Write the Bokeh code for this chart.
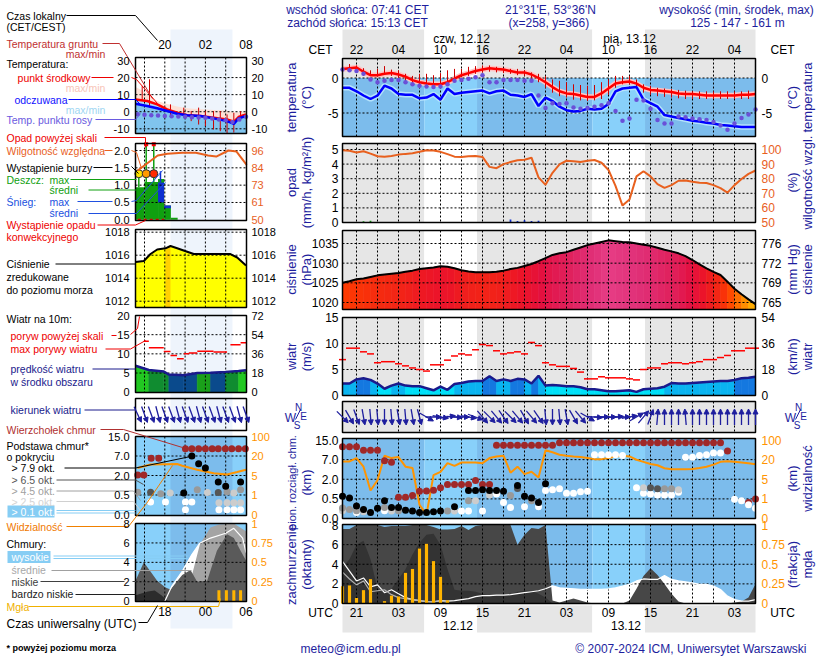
import math
from collections import OrderedDict
import numpy as np
from bokeh.plotting import figure
from bokeh.models import Range1d, ColumnDataSource, Arrow, NormalHead
from bokeh.core.properties import value
from bokeh.embed import file_html
from bokeh.resources import INLINE

# ------------------------------------------------------------------
# DATA - main meteogram (t = hours after 18 UTC 11.12)
# ------------------------------------------------------------------
HOURS = list(range(1, 61))
TEMP = [1.3, 1.4, 1.5, 0.9, 0.4, 0.4, 0.6, 0.7, 0.5, 0.2,
        -0.3, -0.6, -0.8, -0.9, -0.9, -0.6, -0.1, 0.4, 0.7, 1.0,
        1.2, 1.4, 1.3, 1.2, 1.0, 0.8, 0.8, 0.5, 0.0, -0.6,
        -1.3, -1.9, -2.2, -2.3, -2.5, -2.7, -2.7, -2.2, -1.5, -0.8,
        -0.6, -0.5, -0.8, -1.4, -1.7, -1.8, -1.9, -2.0, -2.2, -2.3,
        -2.3, -2.4, -2.5, -2.5, -2.5, -2.5, -2.5, -2.4, -2.4, -2.3]
FEEL = [-1.4, -1.4, -1.9, -2.5, -3.0, -2.5, -1.1, -1.5, -2.3, -2.4,
        -2.4, -2.9, -2.8, -2.3, -3.1, -1.5, -2.3, -2.1, -2.0, -1.9,
        -1.8, -2.2, -1.9, -1.8, -2.4, -2.5, -2.7, -2.3, -4.0, -2.8,
        -3.3, -4.1, -4.6, -4.8, -4.7, -4.4, -4.5, -4.4, -3.7, -1.9,
        -1.5, -1.4, -1.3, -3.1, -3.6, -4.1, -5.3, -5.5, -5.7, -5.9,
        -6.1, -6.2, -6.4, -6.5, -6.7, -6.8, -6.9, -7.0, -7.0, -7.0]
DEW = [1.2, 1.1, 1.0, 0.6, -0.2, -0.6, -0.4, -0.3, -0.3, -0.6,
       -0.9, -1.1, -1.2, -1.3, -1.2, -0.9, -0.4, -0.3, -0.1, 0.1,
       0.4, -0.6, -0.6, -0.3, -0.3, -0.3, -0.4, -0.4, -2.5, -4.3,
       -3.6, -3.7, -3.6, -4.2, -4.4, -4.3, -4.1, -3.9, -3.6, -4.7,
       -6.1, -5.8, -3.1, -3.2, -4.4, -6.0, -6.5, -6.5, -5.5, -5.6,
       -5.8, -5.9, -6.0, -6.3, -6.8, -7.4, -6.5, -5.7, -5.2, -4.5]
GROUND_MAX = [1.9, 2.0, 1.8, 1.4, 1.1, 1.3, 1.7, 1.2, 1.1, 0.6,
              0.3, 0.6, 0.6, 0.4, 0.7, 1.1, 1.3, 1.3, 1.6, 1.7,
              1.8, 1.8, 1.6, 1.4, 1.3, 1.3, 1.1, 0.8, 0.6, 0.3,
              -0.2, -0.4, -0.6, -0.9, -1.0, -1.1, -1.0, -0.6, -0.2, 0.3,
              0.3, 0.3, -0.2, -0.9, -1.1, -1.4, -1.5, -1.6, -1.7, -1.8,
              -1.9, -1.9, -1.9, -1.9, -1.9, -1.9, -1.9, -1.9, -1.8, -1.8]
GROUND_MIN = [0.9, 1.0, 0.9, 0.3, 0.3, 0.3, 0.6, 0.3, -0.2, -0.5,
              -0.9, -1.4, -1.4, -1.4, -1.2, -0.9, -0.4, 0.1, 0.3, 0.6,
              0.8, 0.9, 0.8, 0.7, 0.6, 0.4, 0.3, -0.1, -0.6, -1.4,
              -2.1, -2.6, -2.8, -3.1, -3.2, -3.3, -3.2, -3.0, -2.4, -1.4,
              -0.9, -0.9, -1.4, -2.1, -2.4, -2.6, -2.7, -2.8, -2.9, -3.0,
              -3.0, -3.0, -3.0, -3.0, -3.0, -3.0, -3.0, -3.0, -3.0, -2.9]
HUMIDITY = [99.5, 99.1, 97.9, 98.8, 97.2, 95.4, 95.1, 95.6, 96.5, 97.0,
            97.4, 98.4, 99.5, 99.3, 98.4, 96.8, 95.1, 94.9, 95.4, 95.6,
            94.9, 88.1, 87.2, 90.0, 91.4, 92.6, 93.0, 94.4, 80.9, 75.8,
            84.0, 89.8, 92.3, 91.9, 91.4, 92.3, 92.8, 90.9, 86.0, 75.1,
            61.6, 65.8, 81.6, 85.1, 81.6, 76.3, 73.7, 75.6, 78.6, 78.8,
            77.9, 77.2, 77.0, 75.6, 73.5, 70.5, 75.6, 79.8, 83.3, 85.6]
RAIN_T = [4, 5]
RAIN = [0.08, 0.12]
SNOW_T = [25, 26, 27, 28, 29]
SNOW = [0.2, 0.1, 0.15, 0.1, 0.12]
PRESSURE = [1025.0, 1025.4, 1025.9, 1026.1, 1026.5, 1026.9, 1027.1, 1027.3, 1027.5, 1027.8,
            1028.1, 1028.5, 1028.7, 1028.9, 1029.2, 1029.1, 1028.7, 1028.2, 1027.9, 1027.7,
            1027.7, 1027.7, 1027.8, 1028.1, 1028.5, 1028.8, 1029.3, 1029.8, 1030.5, 1031.3,
            1032.1, 1032.5, 1032.8, 1033.4, 1034.0, 1034.6, 1035.0, 1035.4, 1035.8, 1035.6,
            1035.4, 1035.3, 1035.0, 1034.7, 1034.4, 1033.9, 1033.4, 1033.0, 1032.5, 1031.8,
            1030.8, 1029.7, 1028.7, 1027.8, 1027.0, 1025.3, 1023.5, 1022.1, 1020.8, 1019.6]
WIND = [2.3, 2.3, 3.1, 3.3, 3.0, 2.3, 1.3, 1.9, 2.3, 1.9,
        1.8, 1.8, 1.4, 1.0, 1.7, 1.1, 2.2, 2.4, 2.7, 2.8,
        2.8, 3.7, 2.8, 3.1, 2.8, 3.2, 3.1, 2.3, 3.8, 1.9,
        2.0, 1.9, 1.8, 1.8, 1.6, 1.2, 1.2, 1.0, 0.8, 0.8,
        0.9, 1.0, 0.7, 1.2, 1.3, 1.4, 1.7, 2.4, 2.3, 2.3,
        2.4, 2.5, 2.6, 2.7, 2.8, 2.8, 3.0, 3.3, 3.4, 3.6]
GUST = [6.9, 9.1, 9.1, 8.4, 8.0, 6.3, 6.5, 6.5, 6.1, 5.7,
        5.3, 5.0, 4.7, 5.9, 5.9, 6.8, 7.6, 8.0, 7.8, 8.8,
        9.8, 9.6, 8.6, 8.0, 8.2, 8.4, 8.0, 10.2, 9.6, 6.3,
        5.9, 5.6, 5.6, 5.2, 4.5, 3.2, 3.2, 3.6, 3.4, 3.4,
        3.4, 3.2, 3.0, 5.0, 5.3, 5.3, 6.1, 6.3, 6.3, 6.1,
        6.3, 6.5, 6.9, 6.9, 7.3, 7.7, 8.6, 8.6, 9.1, 9.1]
WIND_DIR = [315, 330, 340, 350, 355, 355, 0, 355, 350, 355,
            350, 345, 300, 270, 280, 260, 275, 270, 280, 290,
            320, 315, 320, 325, 315, 320, 330, 320, 325, 355,
            0, 355, 350, 330, 320, 300, 275, 270, 270, 265,
            270, 260, 240, 220, 200, 185, 180, 180, 180, 175,
            180, 180, 180, 180, 180, 180, 180, 180, 180, 180]
VISIBILITY = [18.6, 18.6, 26.3, 14.6, 2.7, 4.8, 36.0, 26.3, 30.4, 14.6,
              13.6, 0.7, 0.2, 8.1, 10.7, 17.3, 15.2, 17.8, 17.8, 17.8,
              17.3, 26.3, 33.0, 36.0, 10.0, 14.6, 8.9, 10.7, 6.3, 58.0,
              50.0, 40.0, 36.0, 33.0, 30.4, 26.3, 22.0, 22.0, 26.3, 33.0,
              36.0, 33.0, 19.9, 18.3, 16.7, 15.7, 13.4, 12.6, 12.6, 12.6,
              12.8, 13.6, 14.6, 16.2, 18.3, 18.8, 18.3, 17.8, 17.3, 16.5]
CLOUD_TOP_T = list(range(1, 57)) + [59, 60]
CLOUD_TOP = [12.2, 12.2, 12.2, 10.8, 10.8, 10.8, 6.7, 6.3, 0.62, 0.62,
             0.75, 1.08, 1.1, 1.15, 1.35, 1.6, 1.6, 1.6, 1.6, 1.9,
             1.6, 1.6, 12.9, 12.9, 12.9, 12.9, 12.9, 12.9, 12.9, 12.9,
             12.9, 13.9, 13.9, 13.9, 13.9, 13.9, 13.9, 13.9, 13.9, 13.9,
             13.9, 13.9, 13.9, 13.9, 13.9, 13.9, 13.9, 13.9, 13.9, 13.9,
             13.9, 13.9, 13.9, 13.9, 13.9, 10.5, 0.41, 0.5]
BASE_T = [1, 1, 1, 2, 2, 3, 3, 3, 4, 4, 5, 6, 7, 7, 7, 8, 8, 9, 9, 10,
          11, 12, 13, 14, 15, 16, 17, 17, 18, 19, 19, 19, 20, 20, 21, 21, 22, 22, 23, 23,
          24, 24, 25, 25, 26, 26, 27, 27, 28, 28, 29, 29, 30, 30, 31, 32, 33, 34, 35, 36,
          37, 38, 39, 40, 41, 43, 44, 44, 45, 45, 46, 46, 47, 47, 48, 48, 49, 49, 50, 51,
          52, 53, 54, 55, 57, 58, 59, 60]
BASE_KM = [0.7, 0.27, 0.2, 0.56, 0.23, 0.32, 0.2, 0.15, 0.23, 0.17, 0.15, 0.26, 0.45, 0.28, 0.2, 0.28, 0.19, 0.28, 0.2, 0.21,
           0.19, 0.15, 0.15, 0.17, 0.19, 0.19, 0.3, 0.19, 0.19, 1.14, 0.45, 0.19, 1.14, 0.45, 1.19, 0.19, 1.14, 0.8, 1.14, 0.88,
           1.09, 0.41, 0.75, 0.28, 1.53, 1.3, 0.7, 0.3, 0.56, 0.45, 0.41, 0.3, 1.66, 1.14, 1.19, 1.27, 0.93, 0.93, 1.04, 1.09,
           9.0, 9.0, 9.0, 9.0, 8.7, 1.35, 1.35, 0.93, 1.35, 0.88, 1.27, 0.8, 1.27, 0.8, 1.27, 0.8, 1.19, 1.0, 8.0, 8.0,
           8.7, 9.0, 9.7, 9.7, 0.49, 0.45, 0.35, 0.26]
BASE_COVER = [0, 2, 3, 0, 2, 0, 2, 4, 0, 3, 0, 0, 0, 2, 4, 0, 3, 0, 2, 0,
              0, 0, 0, 0, 0, 2, 0, 3, 4, 0, 2, 4, 0, 3, 0, 4, 0, 3, 0, 4,
              0, 4, 2, 4, 0, 1, 0, 4, 0, 2, 0, 4, 0, 4, 4, 4, 4, 4, 4, 4,
              4, 4, 4, 4, 4, 4, 3, 4, 1, 4, 1, 4, 2, 4, 2, 4, 3, 4, 4, 4,
              4, 4, 4, 4, 4, 4, 4, 4]
CL_LOW = [7.6, 7.6, 8.0, 8.0, 8.0, 8.0, 7.8, 7.9, 7.9, 7.9,
          8.0, 8.0, 8.0, 7.8, 7.55, 7.55, 7.6, 7.9, 7.5, 7.9,
          8.0, 8.0, 8.0, 8.0, 8.0, 6.0, 7.0, 7.7, 7.6, 8.0,
          0.3, 0.1, 0.3, 0.5, 0.3, 0.1, 0.0, 0.0, 0.0, 0.0,
          0.0, 0.3, 1.5, 2.8, 3.6, 2.9, 2.0, 1.0, 0.2, 0.0,
          0.0, 0.0, 0.0, 0.0, 0.0, 0.0, 0.1, 0.2, 0.6, 2.0]
CL_VLOW = [3.7, 4.5, 6.0, 6.4, 4.5, 1.5, 1.0, 1.5, 2.5, 3.5,
           5.0, 6.2, 7.0, 7.1, 6.0, 3.5, 1.4, 1.3, 1.3, 1.2,
           1.0, 0.8, 0.8, 0.9, 1.0, 1.2, 1.3, 1.3, 1.0, 0.6,
           0.0, 0.0, 0.0, 0.0, 0.0, 0.0, 0.0, 0.0, 0.0, 0.0,
           0.0, 0.0, 0.0, 0.0, 0.0, 0.0, 0.0, 0.0, 0.0, 0.0,
           0.0, 0.0, 0.0, 0.0, 0.0, 0.0, 0.0, 0.0, 0.0, 0.0]
CL_HIGH = [4.3, 3.3, 2.3, 2.6, 1.7, 1.9, 1.1, 1.4, 1.0, 0.6,
           0.4, 0.3, 0.2, 0.15, 0.3, 0.25, 0.3, 0.4, 0.5, 0.7,
           0.8, 0.8, 0.85, 0.85, 0.9, 1.0, 1.1, 1.2, 1.3, 1.5,
           1.8, 1.6, 1.55, 1.5, 1.45, 1.43, 1.43, 1.43, 1.5, 1.6,
           1.77, 1.95, 2.3, 2.5, 2.45, 2.45, 2.86, 2.45, 2.3, 2.2,
           2.1, 1.95, 1.95, 1.77, 1.43, 0.75, 0.4, 0.25, 0.25, 0.4]
CL_MED_T = list(range(1, 17))
CL_MED = [3.2, 2.5, 1.9, 2.3, 1.2, 1.3, 1.4, 0.9, 0.6, 0.5, 0.4, 0.3, 0.2, 0.2, 0.3, 0.1]
FOG_T = [1, 2, 3, 4, 5, 7, 8, 9, 10, 11, 12, 13, 14, 15, 16]
FOG = [0.22, 0.23, 0.07, 0.17, 0.31, 0.03, 0.10, 0.09, 0.39, 0.44, 0.70, 0.76, 0.54, 0.34, 0.04]

SUNRISE_UTC = 6 + 41 / 60.0
SUNSET_UTC = 14 + 13 / 60.0
MIDNIGHT_T = [6, 30]
CET_TICK_T = [3, 9, 15, 21, 27, 33, 39, 45, 51, 57]
CET_LABELS = ["22", "04", "10", "16", "22", "04", "10", "16", "22", "04"]
UTC_LABELS = ["21", "03", "09", "15", "21", "03", "09", "15", "21", "03"]
DATE_CET = ["czw, 12.12", "pią, 13.12"]
DATE_CET_T = [18, 42]
DATE_UTC = ["12.12", "13.12"]
DATE_UTC_T = [17.5, 41.5]

TEMP_TICKS = [0, -5]
PREC_TICKS = [5, 4, 3, 2, 1, 0]
HUM_TICKS = [100, 90, 80, 70, 60, 50]
PRES_TICKS = [1035, 1030, 1025, 1020]
PRES_MMHG = ["776", "772", "769", "765"]
WIND_TICKS = [15, 10, 5, 0]
WIND_KMH = ["54", "36", "18", "0"]
CB_TICK_KM = [0.0, 0.5, 2.0, 7.0, 15.0]
CB_LABELS = ["0.0", "0.5", "2.0", "7.0", "15.0"]
VIS_TICK_KM = [0, 1, 5, 20, 100]
VIS_LABELS = ["0", "1", "5", "20", "100"]
CL_TICKS = [8, 6, 4, 2, 0]
FOG_TICKS = [1, 0.75, 0.5, 0.25, 0]
FOG_LABELS = ["1", "0.75", "0.5", "0.25", "0"]

# ------------------------------------------------------------------
# DATA - legend (left) panels, tl = hours after 15 UTC 11.12
# ------------------------------------------------------------------
L_TOP_LABELS = ["20", "02", "08"]
L_BOT_LABELS = ["18", "00", "06"]
L_LABEL_T = [3, 9, 15]
L_BAND_T = [3.84, 13.0]
LT_T = [-1.33, 0.39, 1.87, 3.35, 4.83, 6.3, 8.27, 10.24, 12.2, 13.2, 13.9, 15.0]
LT_TEMP = [7.1, 6.3, 4.3, 1.4, -0.6, -2.0, -2.5, -3.5, -4.5, -5.9, -3.1, -1.6]
LT_FEEL = [4.7, 3.3, 2.0, 0.4, -1.2, -2.0, -2.5, -3.9, -5.5, -7.1, -3.9, -2.5]
LT_TMAX = [14.5, 11.0, 6.3, 4.5, 3.0, 2.0, 1.5, 1.0, 0.5, -0.5, -0.3, 0.5]
LT_DEW_T = list(range(-1, 16))
LT_DEW = [-1.5, -1.8, -2.0, -2.2, -2.5, -2.6, -2.8, -3.0, -3.2, -3.4, -3.6, -4.0, -4.5, -5.0, -6.0, -4.5, -3.0]
LT_G_T = [-0.34, 0.74, 3.84, 5.8, 6.9, 8.0, 9.0, 10.2, 11.2, 12.2, 13.2, 14.2]
LT_GMAX = [15.1, 19.0, 4.3, 2.4, 0.4, 2.4, 0.4, 0.4, 0.4, -1.6, -0.6, 0.4]
LT_GMIN = [6.3, 2.4, -2.5, -3.5, -5.5, -7.5, -8.4, -10.4, -11.4, -12.5, -12.2, -5.5]
LR_T0 = [-1.33, 0.0, 2.0, 2.9, 3.9]
LR_T1 = [0.0, 2.0, 2.9, 3.9, 4.9]
LR = [0.94, 1.09, 1.18, 0.41, 0.06]
LS_T0 = [2.0, 2.9]
LS_T1 = [2.9, 3.9]
LS_LO = [0.5, 0.33]
LS_HI = [1.08, 0.41]
LRMAX_T = [-0.84, 0.25, 1.37]
LRMAX_LO = [0.94, 1.09, 1.09]
LRMAX_HI = [1.33, 2.18, 2.18]
LSMAX_T = [2.36]
LSMAX_LO = [1.08]
LSMAX_HI = [1.4]
LSTORM_T = [-0.84, 0.25, 1.37]
LSTORM = [1.33, 1.33, 1.33]
LABOVE_T = [0.25, 1.37]
LCONV_T = [-1.0, 2.9]
LH_T = [-1.0, 1.95, 3.4, 5.6, 7.6, 9.4, 10.6, 12.4, 13.6, 15.1]
LH = [82.7, 92.7, 93.8, 94.5, 94.5, 92.7, 92.0, 96.0, 95.3, 86.5]
LPR_T = [-1.33, -0.1, 0.89, 1.88, 3.1, 3.84, 4.83, 6.31, 7.28, 10.24, 12.7, 13.7, 15.0]
LPR = [1015.4, 1015.5, 1016.1, 1016.5, 1016.6, 1016.8, 1016.6, 1016.3, 1016.1, 1016.1, 1016.1, 1015.8, 1015.1]
LG_T0 = [-0.1, 0.64, 2.85, 3.84, 4.8, 5.8, 6.55, 7.8, 10.2, 12.7, 14.2]
LG_T1 = [0.64, 2.85, 3.84, 4.8, 5.8, 6.55, 7.8, 10.2, 12.2, 14.2, 15.0]
LG = [13.3, 11.6, 10.6, 9.6, 8.7, 10.0, 10.2, 10.7, 10.5, 12.4, 12.9]
LW_T = [-1.33, 0.64, 2.85, 3.6, 5.8, 7.8, 9.75, 11.97, 13.9, 15.0]
LW = [6.9, 5.8, 5.4, 4.6, 4.4, 5.0, 5.1, 5.3, 5.5, 5.7]
LDIR_T = list(range(-1, 16))
LDIR = [335, 340, 340, 345, 340, 340, 345, 340, 340, 345, 340, 340, 345, 340, 340, 345, 340]
LCT_T = [-1.0, -0.1, 0.99, 2.1, 6.05, 7.0, 8.0, 9.0, 10.0, 10.9, 11.95, 12.9, 13.9, 14.9]
LCT = [2.1, 2.1, 6.45, 6.45, 9.95, 9.95, 9.95, 9.95, 9.95, 9.95, 9.95, 9.95, 9.95, 9.95]
LB_T = [-1.0, 0.9, 2.4, 3.8, 5.8, 7.0, 7.8, 8.0, 9.0, 9.3, 10.9, 10.9, 12.0, 12.2, 13.2, 14.2, 14.2,
        0.9, 3.1, 6.05, 7.0, 6.05, 11.0, 12.2, 13.2, 14.2, 11.0, 12.2, 13.2, 14.2]
LB_KM = [0.71, 0.71, 0.6, 0.65, 0.65, 7.0, 0.9, 5.0, 3.95, 0.7, 1.5, 0.7, 1.18, 0.75, 0.65, 1.5, 0.9,
         0.32, 0.32, 0.32, 0.32, 0.12, 0.12, 0.12, 0.12, 0.12, 0.3, 0.3, 0.3, 0.3]
LB_COVER = [2, 1, 2, 3, 0, 0, 2, 0, 0, 3, 0, 1, 0, 2, 3, 0, 2,
            4, 4, 4, 4, 4, 4, 4, 4, 4, 3, 3, 3, 3]
LV_T = [-1.03, 0.89, 4.83, 5.57, 7.78, 10.24, 12.2, 13.7, 15.0]
LV = [10.8, 13.4, 13.8, 12.5, 9.4, 6.8, 5.75, 7.7, 9.4]
LC_MED_T = [6.0, 6.8, 8.2, 9.75, 11.0, 13.2, 15.0]
LC_MED = [0.0, 2.1, 5.9, 7.6, 7.9, 8.0, 7.2]
LC_HIGH_T = [3.0, 4.0, 5.5, 7.0, 8.2, 9.75, 12.0, 13.2, 14.5, 15.0]
LC_HIGH = [0.0, 1.5, 3.0, 4.8, 6.0, 6.5, 7.0, 7.5, 6.5, 5.0]
LC_LOW_T = [-1.33, -0.1, 1.87, 3.1, 3.84, 5.57, 6.8, 7.78, 9.26, 10.7, 12.2, 13.2, 14.2, 15.0]
LC_LOW = [2.1, 4.0, 2.1, 1.4, 1.2, 2.7, 3.2, 2.0, 2.1, 5.2, 6.9, 6.5, 5.2, 4.2]
LC_VLOW_T = [-1.33, 0.5, 1.5, 2.5, 3.5]
LC_VLOW = [0.6, 1.0, 1.1, 0.6, 0.0]
LFOG_T = [11.0, 12.1, 13.2, 14.2]
LFOG = [0.14, 0.14, 0.14, 0.14]

LT_TICKS = [30, 20, 10, 0, -10]
LP_TICKS = [2.0, 1.5, 1.0, 0.5, 0.0]
LP_LABELS = ["2.0", "1.5", "1.0", "0.5", "0.0"]
LH_LABELS = ["96", "84", "73", "61", "50"]
LPR_TICKS = [1018, 1016, 1014, 1012]
LW_TICKS = [20, 15, 10, 5, 0]
LW_KMH = ["72", "54", "36", "18", "0"]

# ------------------------------------------------------------------
# styling
# ------------------------------------------------------------------
FONT = "Liberation Sans"
NAVY = "#1e1e9e"
GRAY_BG = "#e6e6e6"
NIGHT_BLUE = "#7cbcec"
DAY_BLUE = "#88d0fa"
HUM_COL = "#e8601e"
ORANGE = "#ff9400"
DASH = "2 2"
W, H = 820, 660

p = figure(width=W, height=H, output_backend="svg", toolbar_location=None,
           x_range=Range1d(0, W), y_range=Range1d(H, 0),
           x_axis_location=None, y_axis_location=None, min_border=0)
p.outline_line_color = None
p.background_fill_color = "white"
p.border_fill_color = "white"
p.xgrid.grid_line_color = None
p.ygrid.grid_line_color = None


def lin(va, pa, vb, pb, lo, hi):
    k = (vb - va) / (pb - pa)
    return Range1d(start=va + (lo - pa) * k, end=va + (hi - pa) * k)


YSPEC = {
    "m_temp": (0, 77.5, -5, 112.5), "m_prec": (0, 222, 5, 149), "m_hum": (50, 222, 100, 149),
    "m_pres": (1020, 302, 1035, 243), "m_wind": (0, 395, 15, 317), "m_dir": (0, 416.5, 10, 406.5),
    "m_cb": (0, 518, 4, 439.5), "m_cl": (0, 603, 8, 524.5), "m_fog": (0, 603, 1, 524.5),
    "l_temp": (-10, 128.3, 30, 60), "l_prec": (0, 219.3, 2, 150), "l_hum": (50, 219.3, 96, 150),
    "l_pres": (1012, 300.7, 1018, 231.7), "l_wind": (0, 391.7, 20, 315), "l_dir": (0, 414, 10, 404),
    "l_cb": (0, 514, 4, 436), "l_cl": (0, 600.7, 8, 523), "l_fog": (0, 600.7, 1, 523),
}
p.extra_y_ranges = {k: lin(*v, H, 0) for k, v in YSPEC.items()}
p.extra_x_ranges = {"tm": lin(1, 342, 60, 755, 0, W), "tl": lin(0, 144, 15, 245.5, 0, W)}


def px2v(name, px):
    va, pa, vb, pb = YSPEC[name]
    return va + (px - pa) * (vb - va) / (pb - pa)


def v2px(name, v):
    va, pa, vb, pb = YSPEC[name]
    return pa + (v - va) * (pb - pa) / (vb - va)


texts = OrderedDict()


def T(x, y, s, size=12, color="black", align="left", angle=0.0, xr="default", yr="default", style="normal"):
    key = (size, color, align, angle, xr, yr, style)
    d = texts.setdefault(key, {"x": [], "y": [], "text": []})
    d["x"].append(x)
    d["y"].append(y)
    d["text"].append(s)


def flush_texts():
    for (size, color, align, angle, xr, yr, style), d in texts.items():
        p.text(x="x", y="y", text="text", source=ColumnDataSource(d), text_font=value(FONT),
               text_font_size=f"{size}px", text_color=color, text_align=align, text_baseline="middle",
               angle=angle, x_range_name=xr, y_range_name=yr, text_font_style=style)


def seg_lines(pts, color, width=1.0, dash="solid"):
    p.line([a for a, b in pts], [b for a, b in pts], line_color=color, line_width=width, line_dash=dash)


MX0, MX1 = 342, 755
LX0, LX1 = 135, 246
ROWS = {"temp": (58, 136), "prec": (143, 222), "pres": (230, 309), "wind": (317, 395),
        "dir": (401, 432), "cb": (438, 518), "cl": (524, 603)}
LROWS = {"temp": (57, 133), "prec": (143, 220), "pres": (229, 307), "wind": (315, 392),
         "dir": (398, 430), "cb": (436, 515), "cl": (523, 601)}

SR = [m + SUNRISE_UTC for m in MIDNIGHT_T]
SS = [m + SUNSET_UTC for m in MIDNIGHT_T]
NIGHTS = [(HOURS[0], SR[0]), (SS[0], SR[1]), (SS[1], HOURS[-1])]
DAYS = [(SR[0], SS[0]), (SR[1], SS[1])]


def daynight(top, bottom, ncol, dcol, yr="default"):
    p.quad(left=[a for a, b in NIGHTS], right=[b for a, b in NIGHTS], top=top, bottom=bottom,
           fill_color=ncol, line_color=None, x_range_name="tm", y_range_name=yr)
    p.quad(left=[a for a, b in DAYS], right=[b for a, b in DAYS], top=top, bottom=bottom,
           fill_color=dcol, line_color=None, x_range_name="tm", y_range_name=yr)


# left-column highlight band
p.quad(left=L_BAND_T[0], right=L_BAND_T[1], top=29, bottom=628, fill_color="#eef4fc",
       line_color=None, x_range_name="tl")

# backgrounds of main panels
daynight(29, 57, GRAY_BG, "white")
daynight(605, 632, GRAY_BG, "white")
daynight(ROWS["temp"][0], v2px("m_temp", 0), GRAY_BG, "white")
daynight(v2px("m_temp", 0), ROWS["temp"][1], NIGHT_BLUE, DAY_BLUE)
for key in ["prec", "pres", "wind", "dir"]:
    daynight(ROWS[key][0], ROWS[key][1], GRAY_BG, "white")
for key in ["cb", "cl"]:
    daynight(ROWS[key][0], ROWS[key][1], NIGHT_BLUE, DAY_BLUE)

for key in ["cb", "cl"]:
    top, bot = LROWS[key]
    p.quad(left=LX0, right=LX1, top=top, bottom=bot, fill_color=DAY_BLUE, line_color=None)
    p.quad(left=L_BAND_T[0], right=L_BAND_T[1], top=top, bottom=bot, fill_color=NIGHT_BLUE,
           line_color=None, x_range_name="tl")

# MAIN temperature bands
p.line(HOURS, TEMP, line_color="#ffc4c4", line_width=5.5, x_range_name="tm", y_range_name="m_temp")
p.line(HOURS, FEEL, line_color="#b4e2fb", line_width=5.5, x_range_name="tm", y_range_name="m_temp")

# MAIN pressure fill coloured by value
PSTOP = [1019.0, 1021.0, 1023.0, 1025.0, 1027.0, 1029.0, 1031.0, 1033.0, 1035.0, 1036.0]
PCOL = ["#ffc400", "#ff9a00", "#ff6a00", "#ff3c00", "#f52a10", "#ec1428", "#e41040", "#e0205c", "#e03078", "#e84088"]


def hex2rgb(hx):
    return [int(hx[i:i + 2], 16) for i in (1, 3, 5)]


def pcolor(v):
    rgb = [np.interp(v, PSTOP, [hex2rgb(c)[k] for c in PCOL]) for k in range(3)]
    return "#%02x%02x%02x" % tuple(int(round(c)) for c in rgb)


pbot = px2v("m_pres", ROWS["pres"][1])
xs, ys, cs = [], [], []
for i in range(len(HOURS) - 1):
    xs.append([HOURS[i], HOURS[i], HOURS[i + 1], HOURS[i + 1]])
    ys.append([pbot, PRESSURE[i], PRESSURE[i + 1], pbot])
    cs.append(pcolor((PRESSURE[i] + PRESSURE[i + 1]) / 2))
p.patches(xs, ys, fill_color=cs, line_color=cs, line_width=0.6, x_range_name="tm", y_range_name="m_pres")

# MAIN wind fill
xs, ys, cs = [], [], []
for i in range(len(HOURS) - 1):
    m = (WIND[i] + WIND[i + 1]) / 2
    c = "#1478e0" if m >= 3.0 else ("#0ab4f0" if m >= 2.0 else "#00e0f8")
    xs.append([HOURS[i], HOURS[i], HOURS[i + 1], HOURS[i + 1]])
    ys.append([0, WIND[i], WIND[i + 1], 0])
    cs.append(c)
p.patches(xs, ys, fill_color=cs, line_color=cs, line_width=0.6, x_range_name="tm", y_range_name="m_wind")

# MAIN clouds
p.varea(x=HOURS, y1=0, y2=CL_HIGH, fill_color="white", x_range_name="tm", y_range_name="m_cl")
p.varea(x=HOURS, y1=0, y2=CL_LOW, fill_color="#474747", x_range_name="tm", y_range_name="m_cl")
p.varea(x=HOURS, y1=0, y2=CL_VLOW, fill_color="#333333", x_range_name="tm", y_range_name="m_cl")

# LEFT panels fills
lt_bot = px2v("l_temp", LROWS["temp"][1])
p.varea(x=LT_T, y1=LT_TEMP, y2=LT_TMAX, fill_color="#fde0d6", x_range_name="tl", y_range_name="l_temp")
p.varea(x=LT_T, y1=lt_bot, y2=LT_TEMP, fill_color="#a8daf6", x_range_name="tl", y_range_name="l_temp")
p.varea(x=LT_T, y1=lt_bot, y2=LT_FEEL, fill_color="#80c4ee", x_range_name="tl", y_range_name="l_temp")

p.quad(left=LR_T0, right=LR_T1, bottom=0, top=LR, fill_color="#10a010", line_color=None,
       x_range_name="tl", y_range_name="l_prec")
p.quad(left=LS_T0, right=LS_T1, bottom=LS_LO, top=LS_HI, fill_color="#1030d0", line_color=None,
       x_range_name="tl", y_range_name="l_prec")

lpbot = px2v("l_pres", LROWS["pres"][1])
p.varea(x=LPR_T, y1=lpbot, y2=LPR, fill_color="#ffff00", x_range_name="tl", y_range_name="l_pres")
p.varea(x=LPR_T[4:6], y1=lpbot, y2=LPR[4:6], fill_color="#ffd000", x_range_name="tl", y_range_name="l_pres")

LW_COLORS = ["#22c822", "#108c30", "#108c30", "#0a4a8c", "#0a4a8c", "#1aa01a", "#0a4a8c", "#108c30", "#22c822"]
xs, ys = [], []
for i in range(len(LW_T) - 1):
    xs.append([LW_T[i], LW_T[i], LW_T[i + 1], LW_T[i + 1]])
    ys.append([0, LW[i], LW[i + 1], 0])
p.patches(xs, ys, fill_color=LW_COLORS, line_color=LW_COLORS, line_width=0.6, x_range_name="tl", y_range_name="l_wind")

lcl = dict(x_range_name="tl", y_range_name="l_cl")
p.varea(x=LC_HIGH_T, y1=0, y2=LC_HIGH, fill_color="white", **lcl)
p.varea(x=LC_MED_T, y1=0, y2=LC_MED, fill_color="#a4a4a4", **lcl)
p.varea(x=LC_LOW_T, y1=0, y2=LC_LOW, fill_color="#5a5a5a", **lcl)
p.varea(x=LC_VLOW_T, y1=0, y2=LC_VLOW, fill_color="#2c2c2c", **lcl)

# grids (dashed)
GRID_T = list(range(3, 60, 3))
for key, (top, bot) in ROWS.items():
    p.segment(x0=GRID_T, x1=GRID_T, y0=top, y1=bot, line_color="black", line_width=1,
              line_dash=DASH, x_range_name="tm")
HG = {"m_temp": TEMP_TICKS, "m_prec": PREC_TICKS[:-1], "m_pres": PRES_TICKS, "m_wind": WIND_TICKS[1:-1],
      "m_cb": [1, 2, 3], "m_cl": CL_TICKS[1:-1]}
for name, vals in HG.items():
    p.segment(x0=HOURS[0], x1=HOURS[-1], y0=vals, y1=vals, line_color="black", line_width=1,
              line_dash=DASH, x_range_name="tm", y_range_name=name)
LGRID_T = [0, 3, 6, 9, 12]
for key, (top, bot) in LROWS.items():
    p.segment(x0=LGRID_T, x1=LGRID_T, y0=top, y1=bot, line_color="black", line_width=1,
              line_dash=DASH, x_range_name="tl")
LHG = {"l_temp": LT_TICKS[1:], "l_prec": LP_TICKS[:-1], "l_pres": LPR_TICKS, "l_wind": LW_TICKS[1:-1],
       "l_cb": [1, 2, 3], "l_cl": CL_TICKS[1:-1]}
for name, vals in LHG.items():
    p.segment(x0=-1.33, x1=15.1, y0=vals, y1=vals, line_color="black", line_width=1,
              line_dash=DASH, x_range_name="tl", y_range_name=name)

# MAIN lines / markers
mt = dict(x_range_name="tm", y_range_name="m_temp")
p.segment(x0=HOURS, x1=HOURS, y0=GROUND_MIN, y1=GROUND_MAX, line_color="#cc0000", line_width=1, **mt)
p.line(HOURS, TEMP, line_color="#ff0000", line_width=2.5, **mt)
p.line(HOURS, FEEL, line_color="#0000ff", line_width=2.5, **mt)
p.scatter(HOURS, DEW, marker="circle", size=4.5, fill_color="#6a50d8", line_color=None, **mt)

p.vbar(x=RAIN_T, width=0.25, top=RAIN, bottom=0, fill_color="#10a010", line_color=None,
       x_range_name="tm", y_range_name="m_prec")
p.vbar(x=SNOW_T, width=0.25, top=SNOW, bottom=0, fill_color="#1030d0", line_color=None,
       x_range_name="tm", y_range_name="m_prec")
p.line(HOURS, HUMIDITY, line_color=HUM_COL, line_width=2, x_range_name="tm", y_range_name="m_hum")

p.line(HOURS, PRESSURE, line_color="black", line_width=2, x_range_name="tm", y_range_name="m_pres")

p.segment(x0=[h - 0.5 for h in HOURS], x1=[h + 0.5 for h in HOURS], y0=GUST, y1=GUST,
          line_color="#ff0000", line_width=1.5, x_range_name="tm", y_range_name="m_wind")
p.line(HOURS, WIND, line_color="#1a1a8c", line_width=2.5, x_range_name="tm", y_range_name="m_wind")


def arrow_src(ts, dirs, px_per_h, length):
    x0, y0, x1, y1 = [], [], [], []
    for t, d in zip(ts, dirs):
        to = math.radians(d + 180)
        ux, uy = math.sin(to) * length / 2, math.cos(to) * length / 2
        x0.append(t - ux / px_per_h)
        x1.append(t + ux / px_per_h)
        y0.append(-uy)
        y1.append(uy)
    return ColumnDataSource(dict(x0=x0, y0=y0, x1=x1, y1=y1))


p.add_layout(Arrow(end=NormalHead(size=5, fill_color=NAVY, line_color=NAVY), x_start="x0", y_start="y0",
                   x_end="x1", y_end="y1", source=arrow_src(HOURS, WIND_DIR, 7.0, 16),
                   line_color=NAVY, line_width=1.3, x_range_name="tm", y_range_name="m_dir"))

cb = dict(x_range_name="tm", y_range_name="m_cb")
IDX = [0, 1, 2, 3, 4]
p.line(HOURS, list(np.interp(VISIBILITY, VIS_TICK_KM, IDX)), line_color=ORANGE, line_width=2, **cb)
p.scatter(CLOUD_TOP_T, list(np.interp(CLOUD_TOP, CB_TICK_KM, IDX)), marker="circle", size=7,
          fill_color="#a02828", line_color=None, **cb)
COVER_COL = ["#000000", "#555555", "#999999", "#cccccc", "#ffffff"]
order = sorted(range(len(BASE_T)), key=lambda i: -BASE_COVER[i])
p.scatter([BASE_T[i] for i in order], [float(np.interp(BASE_KM[i], CB_TICK_KM, IDX)) for i in order],
          marker="circle", size=7, fill_color=[COVER_COL[BASE_COVER[i]] for i in order], line_color=None, **cb)

cl = dict(x_range_name="tm", y_range_name="m_cl")
p.line(HOURS, CL_HIGH, line_color="white", line_width=1.2, **cl)
p.line(CL_MED_T, CL_MED, line_color="#b0b0b0", line_width=1.2, **cl)
p.vbar(x=FOG_T, width=0.45, top=FOG, bottom=0, fill_color="#ffb400", line_color=None,
       x_range_name="tm", y_range_name="m_fog")

# LEFT lines / markers
lt = dict(x_range_name="tl", y_range_name="l_temp")
p.segment(x0=LT_G_T, x1=LT_G_T, y0=LT_GMIN, y1=LT_GMAX, line_color="#cc0000", line_width=1, **lt)
p.line(LT_T, LT_TEMP, line_color="#ff0000", line_width=2.5, **lt)
p.line(LT_T, LT_FEEL, line_color="#0000ff", line_width=2.5, **lt)
p.scatter(LT_DEW_T, LT_DEW, marker="circle", size=4.5, fill_color="#6a50d8", line_color=None, **lt)

lp = dict(x_range_name="tl", y_range_name="l_prec")
p.segment(x0=LRMAX_T, x1=LRMAX_T, y0=LRMAX_LO, y1=LRMAX_HI, line_color="#10a010", line_width=1.5, **lp)
p.segment(x0=LSMAX_T, x1=LSMAX_T, y0=LSMAX_LO, y1=LSMAX_HI, line_color="#1030d0", line_width=1.5, **lp)
p.line(LCONV_T, [0.0, 0.0], line_color="#ff0000", line_width=2, line_dash="3 3", **lp)
p.scatter(LABOVE_T, [2.18] * len(LABOVE_T), marker="square", size=4, fill_color="#ff0000", line_color=None, **lp)
p.scatter(LSTORM_T, LSTORM, marker="circle", size=8, fill_color=["#ffe600", "#ff9a00", "#ff2a00"],
          line_color="#333333", line_width=1, **lp)
p.line(LH_T, LH, line_color=HUM_COL, line_width=2, x_range_name="tl", y_range_name="l_hum")

p.line(LPR_T, LPR, line_color="black", line_width=2, x_range_name="tl", y_range_name="l_pres")

lw = dict(x_range_name="tl", y_range_name="l_wind")
p.segment(x0=LG_T0, x1=LG_T1, y0=LG, y1=LG, line_color="#ff0000", line_width=1.5, **lw)
p.line(LW_T, LW, line_color="#1a1a8c", line_width=2.5, **lw)

p.add_layout(Arrow(end=NormalHead(size=5, fill_color=NAVY, line_color=NAVY), x_start="x0", y_start="y0",
                   x_end="x1", y_end="y1", source=arrow_src(LDIR_T, LDIR, 6.77, 17),
                   line_color=NAVY, line_width=1.3, x_range_name="tl", y_range_name="l_dir"))

lc = dict(x_range_name="tl", y_range_name="l_cb")
p.line(LV_T, list(np.interp(LV, VIS_TICK_KM, IDX)), line_color=ORANGE, line_width=2, **lc)
p.scatter(LCT_T, list(np.interp(LCT, CB_TICK_KM, IDX)), marker="circle", size=7, fill_color="#a02828",
          line_color=None, **lc)
order = sorted(range(len(LB_T)), key=lambda i: -LB_COVER[i])
p.scatter([LB_T[i] for i in order], [float(np.interp(LB_KM[i], CB_TICK_KM, IDX)) for i in order],
          marker="circle", size=7, fill_color=[COVER_COL[LB_COVER[i]] for i in order], line_color=None, **lc)

p.line(LC_HIGH_T, LC_HIGH, line_color="white", line_width=1.2, **lcl)
p.vbar(x=LFOG_T, width=0.45, top=LFOG, bottom=0, fill_color="#ffb400", line_color=None,
       x_range_name="tl", y_range_name="l_fog")

# panel borders
for key, (top, bot) in ROWS.items():
    p.quad(left=MX0, right=MX1, top=top, bottom=bot, fill_color=None, line_color="black", line_width=1.5)
for key, (top, bot) in LROWS.items():
    p.quad(left=LX0, right=LX1, top=top, bottom=bot, fill_color=None, line_color="black", line_width=1.5)

# tick labels
LTX, RTX = 338, 761


def ticks(name, vals, labels_l, labels_r, col_r="black", lx=LTX, rx=RTX, size=12, col_l="black"):
    for v, a, b in zip(vals, labels_l, labels_r):
        if a is not None:
            T(lx, v, a, size, col_l, "right", yr=name)
        if b is not None:
            T(rx, v, b, size, col_r, "left", yr=name)


ticks("m_temp", TEMP_TICKS, [str(v) for v in TEMP_TICKS], [str(v) for v in TEMP_TICKS])
ticks("m_prec", PREC_TICKS, [str(v) for v in PREC_TICKS], [None] * 6)
ticks("m_hum", HUM_TICKS, [None] * 6, [str(v) for v in HUM_TICKS], HUM_COL)
ticks("m_pres", PRES_TICKS, [str(v) for v in PRES_TICKS], PRES_MMHG)
ticks("m_wind", WIND_TICKS, [str(v) for v in WIND_TICKS], WIND_KMH)
ticks("m_cb", IDX, CB_LABELS, VIS_LABELS, ORANGE)
ticks("m_cl", CL_TICKS, [str(v) for v in CL_TICKS], [None] * 5)
ticks("m_fog", FOG_TICKS, [None] * 5, FOG_LABELS, ORANGE)

LLX, LRX = 129, 251
ticks("l_temp", LT_TICKS, [str(v) for v in LT_TICKS], [str(v) for v in LT_TICKS], lx=LLX, rx=LRX, size=11)
ticks("l_prec", LP_TICKS, LP_LABELS, LH_LABELS, HUM_COL, lx=LLX, rx=LRX, size=11)
ticks("l_pres", LPR_TICKS, [str(v) for v in LPR_TICKS], [str(v) for v in LPR_TICKS], lx=LLX, rx=LRX, size=11)
ticks("l_wind", LW_TICKS, [str(v) for v in LW_TICKS], LW_KMH, lx=LLX, rx=LRX, size=11)
ticks("l_cb", IDX, CB_LABELS, VIS_LABELS, ORANGE, lx=LLX, rx=LRX, size=11)
ticks("l_cl", CL_TICKS, [str(v) for v in CL_TICKS], [None] * 5, lx=LLX, rx=LRX, size=11)
ticks("l_fog", FOG_TICKS, [None] * 5, FOG_LABELS, ORANGE, lx=LLX, rx=LRX, size=11)

for t, lab in zip(CET_TICK_T, CET_LABELS):
    T(t, 49, lab, 12, "black", "center", xr="tm")
for t, lab in zip(CET_TICK_T, UTC_LABELS):
    T(t, 612, lab, 12, "black", "center", xr="tm")
for t, lab in zip(DATE_CET_T, DATE_CET):
    T(t, 38, lab, 12, "black", "center", xr="tm")
for t, lab in zip(DATE_UTC_T, DATE_UTC):
    T(t, 625, lab, 12, "black", "center", xr="tm")
T(320, 49, "CET", 12, "black", "center")
T(782, 49, "CET", 12, "black", "center")
T(320, 612, "UTC", 12, "black", "center")
T(782, 612, "UTC", 12, "black", "center")
for t, lab in zip(L_LABEL_T, L_TOP_LABELS):
    T(t, 44, lab, 12, "black", "center", xr="tl")
for t, lab in zip(L_LABEL_T, L_BOT_LABELS):
    T(t, 611, lab, 12, "black", "center", xr="tl")

# header
T(357, 9, "wschód słońca: 07:41 CET", 12, NAVY, "center")
T(357, 22, "zachód słońca: 15:13 CET", 12, NAVY, "center")
T(550, 9, "21°31'E, 53°36'N", 12, NAVY, "center")
T(550, 22, "(x=258,  y=366)", 12, NAVY, "center")
T(736, 9, "wysokość (min, środek, max)", 12, NAVY, "center")
T(737, 22, "125 - 147 - 161 m", 12, NAVY, "center")

# axis titles (vertical)
VA = math.pi / 2
LEFT_TITLES = [("temperatura", "(°C)", 97, 13), ("opad", "(mm/h, kg/m²/h)", 182, 13), ("ciśnienie", "(hPa)", 269, 13),
               ("wiatr", "(m/s)", 356, 13), ("pion. rozciągł. chm.", "(km)", 482, 11), ("zachmurzenie", "(oktanty)", 564, 13)]
RIGHT_TITLES = [("(°C)", "temperatura", 97, 13), ("(%)", "wilgotność wzgl.", 182, 13), ("(mm Hg)", "ciśnienie", 269, 13),
                ("(km/h)", "wiatr", 356, 13), ("(km)", "widzialność", 478, 13), ("(frakcja)", "mgła", 564, 13)]
for a, b, y, fs in LEFT_TITLES:
    T(291, y, a, fs, NAVY, "center", VA)
    T(306, y, b, 13, NAVY, "center", VA)
for a, b, y, fs in RIGHT_TITLES:
    T(792, y, a, 13, NAVY, "center", VA)
    T(807, y, b, fs, NAVY, "center", VA)
for x0 in (290, 790):
    T(x0, 417, "W", 12, NAVY, "center")
    T(x0 + 8, 406.5, "N", 10, NAVY, "center")
    T(x0 + 13, 416, "E", 10, NAVY, "center")
    T(x0 + 6.5, 424.5, "S", 10, NAVY, "center")
    seg_lines([(x0 + 5, 419), (x0 + 10, 409)], NAVY, 1)

# legend labels + leader lines (left column)
BLK = "black"
RED = "#ee0000"
GRN = "#10a010"
BLU = "#2050e0"
LS = 10.5
p.quad(left=7, right=54, top=505, bottom=517, fill_color="#86cdf4", line_color=None)
p.quad(left=7, right=50, top=550.5, bottom=562.5, fill_color="#86cdf4", line_color=None)

leaders = [
    ([(66, 15), (135, 15), (157, 40)], BLK),
    ([(102, 43), (119, 43), (152, 98)], "#c03030"),
    ([(91, 77), (113, 77)], RED), ([(131, 77), (136, 79), (157, 103)], RED),
    ([(68, 99), (135, 99), (140, 104)], "#0000ff"),
    ([(95, 119), (135, 119), (140, 113)], "#6a5ae0"),
    ([(104, 137), (145, 137), (145, 147)], RED),
    ([(104, 150), (112, 150)], HUM_COL), ([(131, 150), (136, 152), (141, 168)], HUM_COL),
    ([(93, 167), (112, 167)], BLK), ([(131, 166), (138, 173)], BLK),
    ([(70, 179), (136, 179)], GRN),
    ([(88, 189.5), (136, 189.5)], GRN),
    ([(77, 201), (112, 201)], BLU), ([(131, 201), (136, 200), (162, 170)], BLU),
    ([(88, 213), (136, 213), (165, 182)], BLU),
    ([(97, 224.5), (135, 224.5), (145, 220)], RED),
    ([(55, 263.5), (135, 263.5)], BLK),
    ([(111, 335), (116, 335)], RED), ([(130, 334), (137, 328), (139, 316)], RED),
    ([(105, 348.5), (130, 348.5), (145, 340)], RED),
    ([(92, 368.5), (135, 368.5)], "#1a1a8c"),
    ([(84, 409.5), (135, 409.5)], "#1a1a8c"),
    ([(100, 429), (123, 429), (182, 447)], "#b03030"),
    ([(64, 467.5), (135, 467.5), (190, 456)], BLK),
    ([(56, 479.5), (135, 479.5), (143, 484)], "#555555"),
    ([(56, 490.5), (133, 490.5), (140, 500)], "#a0a0a0"),
    ([(56, 501), (133, 501), (140, 510)], "#d0d0d0"),
    ([(56, 510), (135, 510)], "#86cdf4"), ([(56, 512.5), (135, 512.5)], "#86cdf4"),
    ([(66, 526), (128, 526), (146, 503), (172, 465)], "#f08000"),
    ([(53, 555.5), (187, 555.5)], "#86cdf4"), ([(53, 558), (187, 558)], "#86cdf4"),
    ([(51, 570), (191, 570)], "#a0a0a0"),
    ([(40, 581), (124, 581)], "#404040"), ([(132, 581), (136, 581)], "#404040"),
    ([(75, 594), (135, 594)], "#202020"),
    ([(28, 606), (218, 606), (220, 598)], "#f0b000"),
    ([(138, 622), (147, 622), (157, 605)], BLK),
]
for pts, col in leaders:
    seg_lines(pts, col, 1)

T(6, 15, "Czas lokalny", LS, BLK)
T(6, 26, "(CET/CEST)", LS, BLK)
T(6, 43, "Temperatura gruntu", LS, "#c03030")
T(85, 53, "max/min", LS, "#c03030", "center")
T(6, 63, "Temperatura:", LS, BLK)
T(90, 77, "punkt środkowy", LS, RED, "right")
T(85, 87.5, "max/min", LS, "#f8c4b8", "center")
T(67, 99, "odczuwana", LS, "#1010ff", "right")
T(85, 109, "max/min", LS, "#a0d6f2", "center")
T(6, 119, "Temp. punktu rosy", LS, "#6a5ae0")
T(6, 137, "Opad powyżej skali", LS, RED)
T(6, 150, "Wilgotność względna", LS, HUM_COL)
T(6, 167, "Wystąpienie burzy", LS, BLK)
T(6, 179, "Deszcz:", LS, GRN)
T(49, 179, "max", LS, GRN)
T(49, 189.5, "średni", LS, GRN)
T(6, 201, "Śnieg:", LS, BLU)
T(49, 201, "max", LS, BLU)
T(49, 212.5, "średni", LS, BLU)
T(6, 224.5, "Wystąpienie opadu", LS, RED)
T(6, 236.5, "konwekcyjnego", LS, RED)
T(6, 263.5, "Ciśnienie", LS, BLK)
T(6, 276, "zredukowane", LS, BLK)
T(6, 289.5, "do poziomu morza", LS, BLK)
T(6, 318.5, "Wiatr na 10m:", LS, BLK)
T(10, 335, "poryw powyżej skali", LS, RED)
T(10, 348.5, "max porywy wiatru", LS, RED)
T(10, 368.5, "prędkość wiatru", LS, "#1a1a8c")
T(10, 381, "w środku obszaru", LS, "#1a1a8c")
T(10, 409.5, "kierunek wiatru", LS, "#1a1a8c")
T(6, 429, "Wierzchołek chmur", LS, "#b03030")
T(6, 445, "Podstawa chmur*", LS, BLK)
T(6, 456, "o pokryciu", LS, BLK)
T(11, 467.5, "> 7.9 okt.", LS, BLK)
T(11, 479.5, "> 6.5 okt.", LS, "#555555")
T(11, 490.5, "> 4.5 okt.", LS, "#a0a0a0")
T(11, 501, "> 2.5 okt.", LS, "#d4d4d4")
T(11, 511, "> 0.1 okt.", LS, "white")
T(6, 526, "Widzialność", LS, "#f07800")
T(6, 543.5, "Chmury:", LS, BLK)
T(11, 556.5, "wysokie", LS, "white")
T(11, 569.5, "średnie", LS, "#a8a8a8")
T(11, 581, "niskie", LS, "#404040")
T(11, 593.5, "bardzo niskie", LS, "#1a1a1a")
T(6, 606, "Mgła", LS, "#f0b000")
T(6, 623, "Czas uniwersalny (UTC)", 12, BLK)
T(6, 647, "* powyżej poziomu morza", 9, BLK, style="bold")

# footer
T(300, 648, "meteo@icm.edu.pl", 12, NAVY)
T(806, 648, "© 2007-2024 ICM, Uniwersytet Warszawski", 12, NAVY, "right")

flush_texts()

open("out.html", "w").write(file_html(p, INLINE))
